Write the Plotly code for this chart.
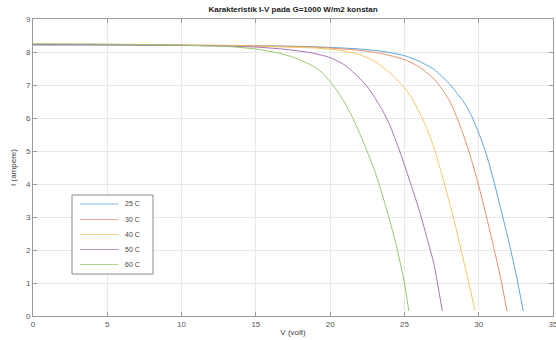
import plotly.graph_objects as go

series_names = ["25 C", "30 C", "40 C", "50 C", "60 C"]

v_25 = [0, 5, 10, 15, 18, 20, 22, 23.5, 25, 26, 27, 28, 29, 29.5, 30, 30.5, 31, 31.5, 32, 32.5, 33.0]
i_25 = [8.21, 8.21, 8.20, 8.19, 8.17, 8.14, 8.09, 8.02, 7.89, 7.72, 7.47, 7.05, 6.48, 6.08, 5.55, 4.92, 4.12, 3.22, 2.3, 1.3, 0.15]

v_30 = [0, 5, 10, 15, 18, 20, 22, 23.5, 25, 26, 27, 27.5, 28, 28.5, 29, 29.5, 30, 30.5, 31, 31.5, 31.9]
i_30 = [8.22, 8.22, 8.21, 8.19, 8.16, 8.12, 8.05, 7.95, 7.77, 7.55, 7.18, 6.9, 6.55, 6.05, 5.45, 4.75, 3.95, 3.05, 2.1, 1.1, 0.15]

v_40 = [0, 5, 10, 15, 17, 19, 20.5, 22, 23, 24, 25, 25.5, 26, 26.5, 27, 27.5, 28, 28.5, 29, 29.4, 29.75]
i_40 = [8.23, 8.23, 8.21, 8.18, 8.15, 8.12, 8.06, 7.92, 7.72, 7.38, 6.92, 6.6, 6.18, 5.7, 5.08, 4.32, 3.5, 2.6, 1.65, 0.88, 0.15]

v_50 = [0, 5, 10, 13, 15, 16.8, 18.8, 20, 21, 22, 22.5, 23, 23.5, 24, 24.5, 25, 25.5, 26, 26.5, 27, 27.55]
i_50 = [8.23, 8.22, 8.20, 8.18, 8.15, 8.09, 7.97, 7.83, 7.6, 7.2, 6.95, 6.62, 6.25, 5.8, 5.22, 4.58, 3.9, 3.2, 2.4, 1.55, 0.15]

v_60 = [0, 5, 10, 12, 13.3, 15, 16.6, 17.7, 18.9, 19.5, 20, 20.5, 21, 21.5, 22, 22.5, 23, 23.5, 24, 24.5, 25.0, 25.3]
i_60 = [8.25, 8.24, 8.21, 8.18, 8.16, 8.09, 7.96, 7.81, 7.56, 7.36, 7.1, 6.8, 6.45, 6.02, 5.52, 4.98, 4.4, 3.7, 2.92, 2.05, 1.0, 0.15]

x_ticks = [0, 5, 10, 15, 20, 25, 30, 35]
y_ticks = [0, 1, 2, 3, 4, 5, 6, 7, 8, 9]

colors = ["#5aa6dc", "#e8906a", "#f3c862", "#a872b4", "#9cc76c"]

vs = [v_25, v_30, v_40, v_50, v_60]
iss = [i_25, i_30, i_40, i_50, i_60]

FONT = "Liberation Sans, Arial"

fig = go.Figure()
for name, v, i, c in zip(series_names, vs, iss, colors):
    fig.add_trace(go.Scatter(x=v, y=i, mode="lines", name=name, showlegend=False,
                             line=dict(color=c, width=1, shape="spline", smoothing=0.5)))

axis_common = dict(
    showgrid=True, gridcolor="#e8e8e8", gridwidth=1,
    showline=True, linecolor="#9a9a9a", linewidth=1, mirror="ticks",
    ticks="inside", ticklen=4, tickcolor="#9a9a9a",
    tickfont=dict(family=FONT, size=8, color="#555555"),
    zeroline=False, automargin=False,
)

# manual legend (pixel layout converted to paper coords)
L, R, T, B = 33, 553, 19, 316
def px(xp):
    return (xp - L) / (R - L)
def py(yp):
    return (B - yp) / (B - T)

shapes = [dict(type="rect", xref="paper", yref="paper",
               x0=px(72), x1=px(153), y0=py(274), y1=py(195),
               line=dict(color="#8a8a8a", width=1), fillcolor="white", layer="above")]
annotations = []
entry_y = [204, 219.5, 234.5, 249.5, 264.5]
for name, c, ey in zip(series_names, colors, entry_y):
    shapes.append(dict(type="line", xref="paper", yref="paper",
                       x0=px(80), x1=px(118.5), y0=py(ey), y1=py(ey),
                       line=dict(color=c, width=1), layer="above", opacity=0.75))
    annotations.append(dict(text=name, xref="paper", yref="paper",
                            x=px(123), y=py(ey), xanchor="left", yanchor="middle",
                            showarrow=False,
                            font=dict(family=FONT, size=7, color="#444444")))

fig.update_layout(
    width=556, height=340,
    margin=dict(l=L, r=556 - R, t=T, b=340 - B),
    paper_bgcolor="white", plot_bgcolor="white",
    title=dict(text="<b>Karakteristik I-V pada G=1000 W/m2 konstan</b>",
               font=dict(family=FONT, size=8, color="#222222"),
               x=(L + R) / 2 / 556, xanchor="center", xref="container",
               y=1 - 9 / 340, yanchor="middle", yref="container"),
    xaxis=dict(range=[0, 35], tickvals=x_ticks, ticklabeloverflow="allow",
               title=dict(text="V (volt)", standoff=1,
                          font=dict(family=FONT, size=8, color="#444444")),
               **axis_common),
    yaxis=dict(range=[0, 9], tickvals=y_ticks,
               title=dict(text="I (ampere)", standoff=8,
                          font=dict(family=FONT, size=8, color="#444444")),
               **axis_common),
    showlegend=False,
    shapes=shapes,
    annotations=annotations,
)

fig.write_html("out.html", config={"displayModeBar": False},
               post_script="document.body.style.margin='0';")
